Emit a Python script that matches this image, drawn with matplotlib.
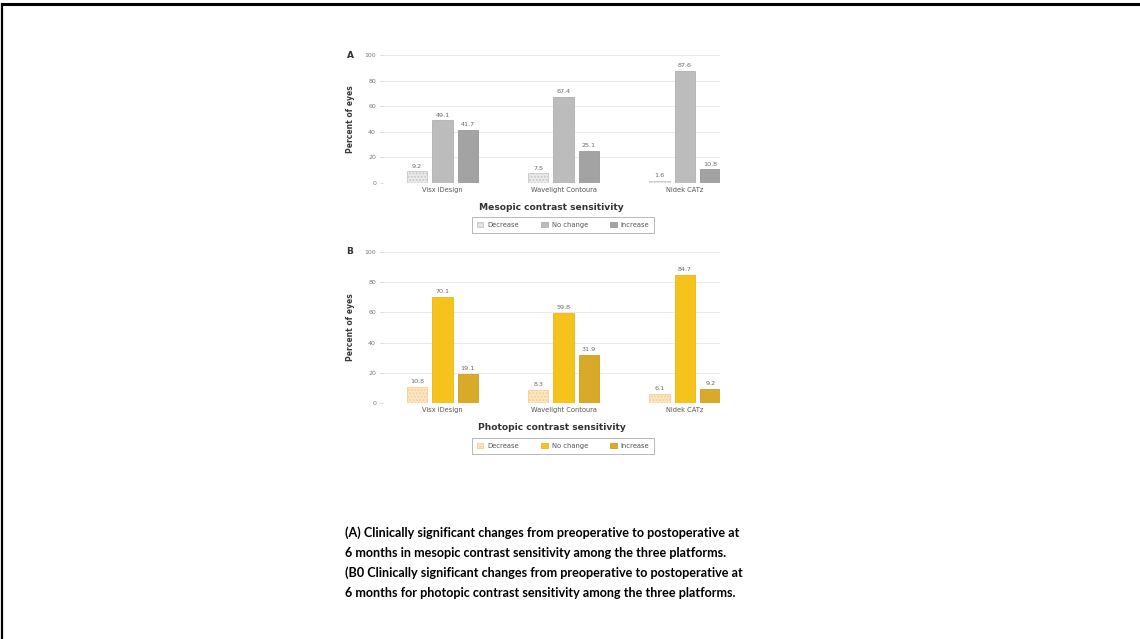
import matplotlib
matplotlib.use("Agg")
import matplotlib.pyplot as plt
import numpy as np
from matplotlib.lines import Line2D
from matplotlib.patches import Patch

W, H = 1140, 639

platforms = ["Visx iDesign", "Wavelight Contoura", "Nidek CATz"]
series = ["Decrease", "No change", "Increase"]
yticks = [0, 20, 40, 60, 80, 100]

mesopic_decrease = [9.2, 7.5, 1.6]
mesopic_nochange = [49.1, 67.4, 87.6]
mesopic_increase = [41.7, 25.1, 10.8]

photopic_decrease = [10.8, 8.3, 6.1]
photopic_nochange = [70.1, 59.8, 84.7]
photopic_increase = [19.1, 31.9, 9.2]

caption = [
    "(A) Clinically significant changes from preoperative to postoperative at",
    "6 months in mesopic contrast sensitivity among the three platforms.",
    "(B0 Clinically significant changes from preoperative to postoperative at",
    "6 months for photopic contrast sensitivity among the three platforms.",
]

fig = plt.figure(figsize=(W / 100, H / 100), dpi=100)
fig.patch.set_facecolor("white")


def fx(px):
    return px / W


def fy(py):
    return 1 - py / H


# slide frame: top and left edges
fig.add_artist(Line2D([fx(2), 1.0], [fy(4), fy(4)], color="black", lw=2.2))
fig.add_artist(Line2D([fx(2), fx(2)], [fy(4), 0.0], color="black", lw=1.6))


def panel(left, right, y0, y100, letter, dec, noc, inc, colors, edges,
          xlabel, legend_y):
    ax = fig.add_axes([fx(left), fy(y0), fx(right) - fx(left), (y0 - y100) / H])
    x = np.arange(len(platforms))
    off, bw = 0.21, 0.17
    groups = [(x - off, dec), (x, noc), (x + off, inc)]
    handles = []
    for i, (xs, vals) in enumerate(groups):
        hatch = "....." if i == 0 else None
        bars = ax.bar(xs, vals, bw, color=colors[i], edgecolor=edges[i],
                      linewidth=0.6, hatch=hatch, label=series[i], zorder=3)
        for b, v in zip(bars, vals):
            ax.text(b.get_x() + b.get_width() / 2, v + 2.0, f"{v:.1f}",
                    ha="center", va="bottom", fontsize=4.6, color="#6a6a6a")
        handles.append(Patch(facecolor=colors[i], edgecolor=edges[i],
                             hatch=hatch, linewidth=0.6, label=series[i]))
    ax.set_xlim(-0.49, 2.29)
    ax.set_ylim(0, 100)
    ax.set_yticks(yticks)
    ax.set_yticklabels([str(t) for t in yticks], fontsize=4.5, color="#7a7a7a")
    ax.set_xticks(x)
    ax.set_xticklabels(platforms, fontsize=4.8, color="#555555")
    ax.tick_params(axis="y", length=2, width=0.4, color="#bbbbbb", pad=3)
    ax.tick_params(axis="x", length=0, pad=3)
    ax.grid(axis="y", color="#e6e6e6", lw=0.6, zorder=0)
    for s in ax.spines.values():
        s.set_visible(False)
    ax.set_ylabel("Percent of eyes", fontsize=5.5, fontweight="bold",
                  color="#3a3a3a", labelpad=7)
    ax.set_xlabel(xlabel, fontsize=6.6, fontweight="bold", color="#333333",
                  labelpad=7)
    fig.text(fx(350), fy(y100), letter, fontsize=6.5, fontweight="bold",
             color="#333333", ha="center", va="center")
    leg = fig.legend(handles=handles, loc="center",
                     bbox_to_anchor=(fx(563), fy(legend_y)), ncol=3,
                     fontsize=4.9, frameon=True, fancybox=False,
                     handlelength=1.0, handleheight=0.8, columnspacing=3.2,
                     handletextpad=0.6, borderpad=0.75, borderaxespad=0)
    leg.get_frame().set_edgecolor("#999999")
    leg.get_frame().set_linewidth(0.6)
    for t in leg.get_texts():
        t.set_color("#555555")
    return ax


panel(383, 720, 183, 55, "A", mesopic_decrease, mesopic_nochange,
      mesopic_increase,
      ["#ececec", "#bcbcbc", "#a3a3a3"],
      ["#c8c8c8", "#b0b0b0", "#999999"],
      "Mesopic contrast sensitivity", 225)

panel(383, 720, 403, 252, "B", photopic_decrease, photopic_nochange,
      photopic_increase,
      ["#fde6c6", "#f6c21c", "#d9a92a"],
      ["#f6cf90", "#eab517", "#cc9d22"],
      "Photopic contrast sensitivity", 446)

for i, line in enumerate(caption):
    fig.text(fx(345), fy(533 + 20 * i), line, fontsize=9.1, fontweight="bold",
             family=["Lato", "DejaVu Sans"], color="black",
             ha="left", va="center")

fig.savefig("out.png", dpi=100, facecolor="white")
